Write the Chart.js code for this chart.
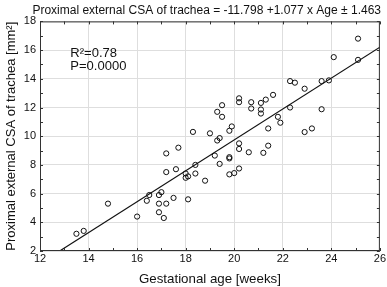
<!DOCTYPE html>
<html>
<head>
<meta charset="utf-8">
<script src="https://cdn.jsdelivr.net/npm/chart.js@4/dist/chart.umd.min.js"></script>
<style>
  html, body { margin: 0; padding: 0; background: #fff; }
  #wrap { width: 387px; height: 287px; }
</style>
</head>
<body>
<div id="wrap"><canvas id="scatterChart"></canvas></div>
<script>
// gestational age (weeks) and proximal external CSA (mm2)
const ageWeeks = [
    13.5, 13.8, 14.8, 16.0, 16.4, 16.5, 16.9, 17.0, 16.9, 17.2,
    16.9, 17.1, 17.5, 18.1, 17.2, 17.2, 17.7, 17.6, 18.0, 18.1,
    18.0, 18.4, 18.4, 18.8, 18.3, 19.0, 19.3, 19.2, 19.4, 19.3,
    19.5, 19.5, 19.4, 19.8, 19.9, 20.2, 20.2, 20.7, 20.7, 21.1,
    21.1, 21.1, 21.3, 21.6, 22.3, 22.5, 22.9, 23.6, 23.9, 24.1,
    25.1, 25.1, 22.3, 23.6, 21.8, 21.9, 21.4, 22.9, 23.2, 20.2,
    20.2, 21.4, 19.8, 19.8, 20.6, 21.2, 20.2, 20.0, 19.8
];
const csaValues = [
    3.2, 3.4, 5.3, 4.4, 5.5, 5.9, 5.9, 6.1, 5.3, 5.3,
    4.7, 4.3, 5.7, 5.6, 7.5, 8.8, 9.2, 7.7, 7.4, 7.2,
    7.1, 8.0, 7.4, 6.9, 10.3, 10.2, 9.7, 8.65, 8.07, 11.7,
    12.16, 11.35, 9.87, 10.38, 10.68, 12.64, 12.37, 12.37, 11.93, 12.32,
    11.86, 11.58, 12.55, 12.88, 13.84, 13.73, 13.31, 13.84, 13.89, 15.51,
    16.8, 15.32, 12.0, 11.88, 11.35, 10.94, 10.54, 10.29, 10.54, 9.5,
    9.11, 9.34, 8.54, 8.45, 8.88, 8.84, 7.75, 7.43, 7.34
];
// fitted line end points (CSA = -11.798 + 1.077 x Age)
const fitX = [12.81, 26];
const fitY = [2.0, 16.2];

const xTicks = [12, 14, 16, 18, 20, 22, 24, 26];
const yTicks = [2, 4, 6, 8, 10, 12, 14, 16, 18];
const statLines = ["R\u00b2=0.78", "P=0.0000"];

const FONT = "'Liberation Sans', Arial, sans-serif";

// frame, inner minor ticks and the R2/P note
const framePlugin = {
    id: "frame",
    afterDraw(chart) {
        const { ctx, chartArea: a, scales } = chart;
        ctx.save();
        ctx.strokeStyle = "#333";
        ctx.lineWidth = 1;
        ctx.strokeRect(a.left + 0.5, a.top + 0.5, a.right - a.left - 1, a.bottom - a.top - 1);
        ctx.beginPath();
        for (let v = xTicks[0]; v <= xTicks[xTicks.length - 1]; v++) {
            const px = Math.round(scales.x.getPixelForValue(v)) + 0.5;
            ctx.moveTo(px, a.bottom); ctx.lineTo(px, a.bottom - 3);
            ctx.moveTo(px, a.top); ctx.lineTo(px, a.top + 3);
        }
        for (let v = yTicks[0]; v <= yTicks[yTicks.length - 1]; v++) {
            const py = Math.round(scales.y.getPixelForValue(v)) + 0.5;
            ctx.moveTo(a.left, py); ctx.lineTo(a.left + 3, py);
            ctx.moveTo(a.right, py); ctx.lineTo(a.right - 3, py);
        }
        ctx.stroke();

        ctx.fillStyle = "#111";
        ctx.font = "13px " + FONT;
        ctx.textBaseline = "middle";
        const tx = scales.x.getPixelForValue(13.25);
        ctx.fillText(statLines[0], tx, scales.y.getPixelForValue(15.8));
        ctx.fillText(statLines[1], tx, scales.y.getPixelForValue(14.85));
        ctx.restore();
    }
};

new Chart(document.getElementById("scatterChart"), {
    type: "scatter",
    data: {
        datasets: [{
            label: "CSA",
            data: ageWeeks.map((x, i) => ({ x: x, y: csaValues[i] })),
            pointStyle: "circle",
            pointRadius: 2.6,
            borderColor: "#111",
            backgroundColor: "rgba(0,0,0,0)",
            borderWidth: 1,
            order: 1
        }, {
            label: "fit",
            type: "line",
            data: fitX.map((x, i) => ({ x: x, y: fitY[i] })),
            borderColor: "#111",
            borderWidth: 1.2,
            pointRadius: 0,
            fill: false,
            order: 2
        }]
    },
    options: {
        responsive: true,
        maintainAspectRatio: false,
        animation: false,
        layout: { padding: { top: 0, right: 6, left: 0, bottom: 0 } },
        plugins: {
            legend: { display: false },
            tooltip: { enabled: false },
            title: {
                display: true,
                text: "Proximal external CSA of trachea = -11.798 +1.077 x Age \u00b1 1.463",
                color: "#111",
                font: { family: FONT, size: 12, weight: "normal" },
                padding: { top: 3, bottom: 4 },
                align: "end"
            }
        },
        scales: {
            x: {
                type: "linear",
                min: 12,
                max: 26,
                afterBuildTicks: s => { s.ticks = xTicks.map(v => ({ value: v })); },
                afterFit: s => { s.height = 36; },
                ticks: { color: "#111", font: { family: FONT, size: 11 }, padding: 1 },
                grid: { color: "#dedede", drawTicks: false },
                border: { display: false },
                title: {
                    display: true,
                    text: "Gestational age [weeks]",
                    color: "#111",
                    font: { family: FONT, size: 13.3 },
                    padding: { top: 5, bottom: 0 }
                }
            },
            y: {
                type: "linear",
                min: 2,
                max: 18,
                afterBuildTicks: s => { s.ticks = yTicks.map(v => ({ value: v })); },
                afterFit: s => { s.width = 40; },
                ticks: { color: "#111", font: { family: FONT, size: 11 }, padding: 4 },
                grid: { color: "#dedede", drawTicks: false },
                border: { display: false },
                title: {
                    display: true,
                    text: "Proximal external CSA of trachea [mm\u00b2]",
                    color: "#111",
                    font: { family: FONT, size: 13 },
                    padding: { top: 4, bottom: 2 }
                }
            }
        }
    },
    plugins: [framePlugin]
});
</script>
</body>
</html>
